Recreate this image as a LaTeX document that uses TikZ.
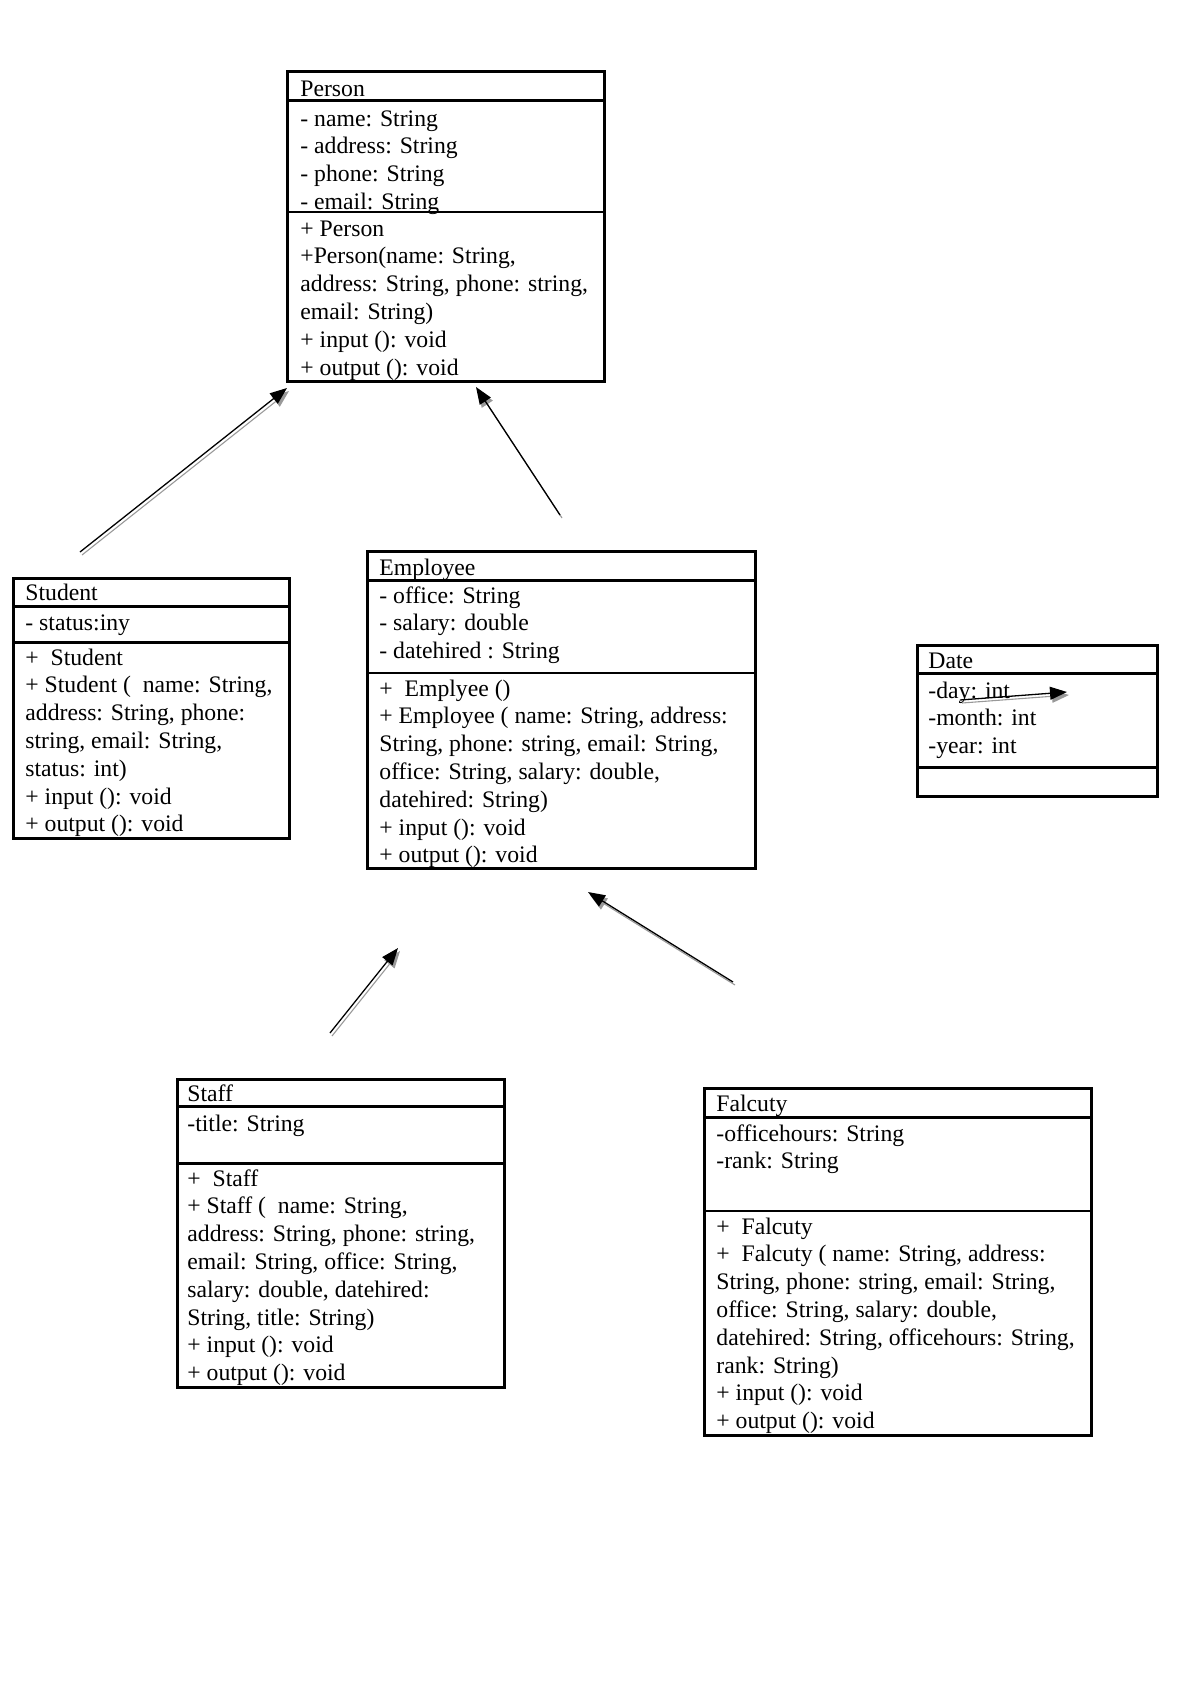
\documentclass[tikz,border=0pt]{standalone}
\usepackage{fontspec}
\setmainfont{Liberation Serif}
\usetikzlibrary{arrows.meta}
\newcommand\umllines[1]{\begin{tabular}[t]{@{}l@{}}#1\end{tabular}}
\tikzset{
  umlbox/.style={draw, line width=1.5pt},
  thicksep/.style={line width=1.5pt},
  thinsep/.style={line width=0.6pt},
  umltext/.style={anchor=base west, inner sep=0pt, yshift=-1.5pt, font=\fontsize{11.85}{13.9}\selectfont},
  genarrow/.style={line width=0.65pt, -{Triangle[length=8.5pt,width=6.5pt]}},
  genshadow/.style={line width=0.55pt, draw=black!40, -{Triangle[length=8.5pt,width=6.5pt,fill=black!40]}}
}
\newcommand\shadowarrow[2]{%
  \draw[genshadow] ([shift={(2,3)}]#1) -- ([shift={(2,3)}]#2);
  \draw[genarrow] (#1) -- (#2);}
\begin{document}
\begin{tikzpicture}[x=0.5pt,y=-0.5pt]
\useasboundingbox (0,0) rectangle (1200,1698);

% Person
\draw[umlbox] (287,71) rectangle (604,381);
\draw[thicksep] (287,100) -- (604,100);
\draw[thinsep] (287,212) -- (604,212);
\node[umltext] (personh) at (300,93) {Person};
\node[umltext] (persona) at (300,123) {\umllines{- name: String\\- address: String\\- phone: String\\- email: String}};
\node[umltext] (personm) at (300,233) {\umllines{+ Person\\+Person(name: String,\\address: String, phone: string,\\email: String)\\+ input (): void\\+ output (): void}};

% Student
\draw[umlbox] (13,578) rectangle (289,838);
\draw[thicksep] (13,606) -- (289,606);
\draw[thicksep] (13,642) -- (289,642);
\node[umltext] (studenth) at (25,597) {Student};
\node[umltext] (studenta) at (25,627) {- status:iny};
\node[umltext] (studentm) at (25,662) {\umllines{+~~Student\\+ Student (~~name: String,\\address: String, phone:\\string, email: String,\\status: int)\\+ input (): void\\+ output (): void}};

% Employee
\draw[umlbox] (367,551) rectangle (755,868);
\draw[thicksep] (367,580) -- (755,580);
\draw[thinsep] (367,673) -- (755,673);
\node[umltext] (employeeh) at (379,572) {Employee};
\node[umltext] (employeea) at (379,600) {\umllines{- office: String\\- salary: double\\- datehired : String}};
\node[umltext] (employeem) at (379,693) {\umllines{+~~Emplyee ()\\+ Employee ( name: String, address:\\String, phone: string, email: String,\\office: String, salary: double,\\datehired: String)\\+ input (): void\\+ output (): void}};

% Date
\draw[umlbox] (917,645) rectangle (1157,796);
\draw[thicksep] (917,673) -- (1157,673);
\draw[thicksep] (917,767) -- (1157,767);
\node[umltext] (dateh) at (928,665) {Date};
\node[umltext] (datea) at (928,695) {\umllines{-day: int\\-month: int\\-year: int}};

% Staff
\draw[umlbox] (177,1079) rectangle (504,1387);
\draw[thicksep] (177,1106) -- (504,1106);
\draw[thicksep] (177,1163) -- (504,1163);
\node[umltext] (staffh) at (187,1098) {Staff};
\node[umltext] (staffa) at (187,1128) {-title: String};
\node[umltext] (staffm) at (187,1183) {\umllines{+~~Staff\\+ Staff (~~name: String,\\address: String, phone: string,\\email: String, office: String,\\salary: double, datehired:\\String, title: String)\\+ input (): void\\+ output (): void}};

% Falcuty
\draw[umlbox] (704,1088) rectangle (1091,1435);
\draw[thicksep] (704,1117) -- (1091,1117);
\draw[thinsep] (704,1211) -- (1091,1211);
\node[umltext] (falcutyh) at (716,1108) {Falcuty};
\node[umltext] (falcutya) at (716,1138) {\umllines{-officehours: String\\-rank: String}};
\node[umltext] (falcutym) at (716,1231) {\umllines{+~~Falcuty\\+~~Falcuty ( name: String, address:\\String, phone: string, email: String,\\office: String, salary: double,\\datehired: String, officehours: String,\\rank: String)\\+ input (): void\\+ output (): void}};

% arrow end points
\coordinate (t1) at (80,552);   \coordinate (h1) at (287,388);
\coordinate (t2) at (560,515);  \coordinate (h2) at (476,387);
\coordinate (t3) at (330,1033); \coordinate (h3) at (398,948);
\coordinate (t4) at (733,982);  \coordinate (h4) at (588,892);
\coordinate (t5) at (960,700);  \coordinate (h5) at (1067,692);

\shadowarrow{t1}{h1}
\shadowarrow{t2}{h2}
\shadowarrow{t3}{h3}
\shadowarrow{t4}{h4}
\shadowarrow{t5}{h5}
\end{tikzpicture}
\end{document}
